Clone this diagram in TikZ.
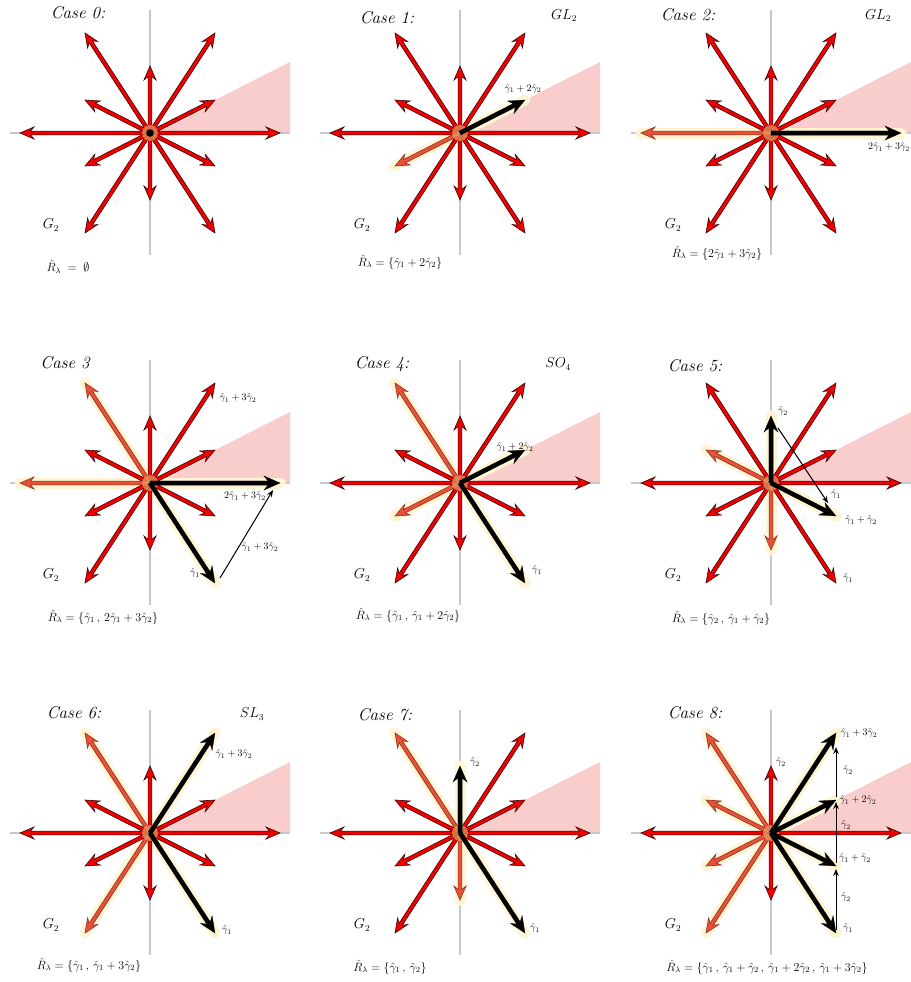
\documentclass[tikz,border=0pt]{standalone}
\usepackage{amsmath,amssymb}
\usetikzlibrary{arrows.meta}
\definecolor{wedge}{RGB}{250,205,205}
\definecolor{axisg}{RGB}{200,200,200}
\definecolor{rootred}{RGB}{240,0,0}
\definecolor{rootedge}{RGB}{60,0,0}
\definecolor{hlred}{RGB}{232,80,56}
\definecolor{hledge}{RGB}{140,50,30}
\definecolor{glowc}{RGB}{255,245,212}
\definecolor{centerg}{RGB}{232,160,100}
\tikzset{
 redarr/.style={fill=rootred, draw=rootedge, line width=0.6pt},
 hlarr/.style={fill=hlred, draw=hledge, line width=0.6pt},
 blkarr/.style={fill=black, draw=black, line width=0.3pt},
 glowline/.style={draw=glowc, line width=11pt, line cap=round},
 axisline/.style={draw=axisg, line width=1.1pt},
 thinarr/.style={draw=black, line width=1pt, -{Stealth[length=7pt,width=5.5pt]}},
 casetxt/.style={font=\fontsize{17}{20}\selectfont\itshape, inner sep=0pt},
 lbl/.style={font=\fontsize{10}{12}\selectfont, inner sep=0pt},
 setlbl/.style={font=\fontsize{12}{14}\selectfont, inner sep=0pt},
 grp/.style={font=\fontsize{13.5}{16}\selectfont, inner sep=0pt},
}
\newcommand\RX[1]{\ifcase#1 0\or 130\or 65\or 65\or 0\or -65\or -65\or -130\or -65\or -65\or 0\or 65\or 65\fi}
\newcommand\RY[1]{\ifcase#1 0\or 0\or 33\or 100\or 67\or 100\or 33\or 0\or -33\or -100\or -67\or -100\or -33\fi}
\def\gsw{1.9}\def\ghl{14}\def\ghw{6}\def\gnt{3.5}
\newcommand\garrow[2]{%
 \edef\gdx{\RX{#1}}\edef\gdy{\RY{#1}}%
 \pgfmathsetmacro\gL{veclen(\gdx,\gdy)}%
 \pgfmathsetmacro\gA{atan2(\gdy,\gdx)}%
 \draw[#2, rotate=\gA] (0,-\gsw) -- ({\gL-\ghl+\gnt},-\gsw) -- ({\gL-\ghl},-\ghw) -- (\gL,0) -- ({\gL-\ghl},\ghw) -- ({\gL-\ghl+\gnt},\gsw) -- (0,\gsw) -- cycle;}
\newcommand\barrow[1]{{\def\gsw{2.1}\def\ghl{16}\def\ghw{7}\def\gnt{4}\garrow{#1}{blkarr}}}
\newcommand\gglow[1]{\edef\gdx{\RX{#1}}\edef\gdy{\RY{#1}}\draw[glowline] (0,0) -- (\gdx,\gdy);}
\newcommand\gbase{%
 \fill[wedge] (0,0) -- (140,0) -- (140,71) -- cycle;
 \draw[axisline] (-140,0) -- (140,0);
 \draw[axisline] (0,123) -- (0,-122);}
\newcommand\gcenter{\fill[centerg, opacity=.7] (0,0) circle (8);}
\newcommand\gpanel[3]{% red list, highlighted list, black list
 \gbase
 \foreach \i in {#2,#3} {\gglow{\i}}
 \foreach \i in {#1} {\garrow{\i}{redarr}}
 \foreach \i in {#2} {\garrow{\i}{hlarr}}
 \gcenter
 \foreach \i in {#3} {\barrow{\i}}}
\begin{document}
\begin{tikzpicture}[x=1pt,y=1pt]
\useasboundingbox (0,0) rectangle (910,-982);
\fill[white] (0,0) rectangle (910,-982);

% ---------- Case 0
\begin{scope}[shift={(150,-133)}]
 \gbase
 \foreach \i in {1,...,12} {\garrow{\i}{redarr}}
 \gcenter
 \fill[black] (0,0) circle (3.8);
\end{scope}
\node[casetxt] (t0) at (78,-13) {Case 0:};
\node[grp] (g0) at (51,-225) {$G_2$};
\node[setlbl] (r0) at (68,-267) {$\hat R_\lambda\;=\;\emptyset$};

% ---------- Case 1
\begin{scope}[shift={(460,-133)}]
 \gpanel{1,3,4,5,6,7,9,10,11,12}{8}{2}
\end{scope}
\node[casetxt] (t1) at (387,-18) {Case 1:};
\node[grp] (n1) at (564,-16) {$GL_2$};
\node[lbl] (l1) at (523,-89) {$\hat\gamma_1+2\hat\gamma_2$};
\node[grp] (g1) at (362,-225) {$G_2$};
\node[setlbl] (r1) at (400,-262) {$\hat R_\lambda=\{\hat\gamma_1+2\hat\gamma_2\}$};

% ---------- Case 2
\begin{scope}[shift={(771,-133)}]
 \gpanel{2,3,4,5,6,8,9,10,11,12}{7}{1}
\end{scope}
\node[casetxt] (t2) at (688,-15) {Case 2:};
\node[grp] (n2) at (878,-16) {$GL_2$};
\node[lbl] (l2) at (889,-147) {$2\hat\gamma_1+3\hat\gamma_2$};
\node[grp] (g2) at (673,-225) {$G_2$};
\node[setlbl] (r2) at (717,-253) {$\hat R_\lambda=\{2\hat\gamma_1+3\hat\gamma_2\}$};

% ---------- Case 3
\begin{scope}[shift={(150,-483)}]
 \gpanel{2,3,4,6,8,9,10,12}{5,7}{1,11}
 \coordinate (c3a) at (70,-95);
 \coordinate (c3b) at (123,-7);
 \draw[thinarr] (c3a) -- (c3b);
\end{scope}
\node[casetxt] (t3) at (65,-363) {Case 3};
\node[lbl] (l3a) at (238,-398) {$\hat\gamma_1+3\hat\gamma_2$};
\node[lbl] (l3b) at (245,-496) {$2\hat\gamma_1+3\hat\gamma_2$};
\node[lbl] (l3c) at (260,-547) {$\hat\gamma_1+3\hat\gamma_2$};
\node[lbl] (l3d) at (195,-573) {$\hat\gamma_1$};
\node[grp] (g3) at (51,-575) {$G_2$};
\node[setlbl] (r3) at (103,-617) {$\hat R_\lambda=\{\hat\gamma_1\,,\,2\hat\gamma_1+3\hat\gamma_2\}$};

% ---------- Case 4
\begin{scope}[shift={(460,-483)}]
 \gpanel{1,3,4,6,7,9,10,12}{5,8}{2,11}
\end{scope}
\node[casetxt] (t4) at (382,-364) {Case 4:};
\node[grp] (n4) at (558,-364) {$SO_4$};
\node[lbl] (l4a) at (515,-447) {$\hat\gamma_1+2\hat\gamma_2$};
\node[lbl] (l4b) at (537,-570) {$\hat\gamma_1$};
\node[grp] (g4) at (362,-575) {$G_2$};
\node[setlbl] (r4) at (408,-615) {$\hat R_\lambda=\{\hat\gamma_1\,,\,\hat\gamma_1+2\hat\gamma_2\}$};

% ---------- Case 5
\begin{scope}[shift={(771,-483)}]
 \gpanel{1,2,3,5,7,8,9,11}{6,10}{4,12}
 \coordinate (c5a) at (7,55);
 \coordinate (c5b) at (57,-20);
 \draw[thinarr] (c5a) -- (c5b);
\end{scope}
\node[casetxt] (t5) at (695,-366) {Case 5:};
\node[lbl] (l5a) at (783,-411) {$\hat\gamma_2$};
\node[lbl] (l5b) at (836,-494) {$\hat\gamma_1$};
\node[lbl] (l5c) at (861,-520) {$\hat\gamma_1+\hat\gamma_2$};
\node[lbl] (l5d) at (848,-578) {$\hat\gamma_1$};
\node[grp] (g5) at (673,-575) {$G_2$};
\node[setlbl] (r5) at (721,-618) {$\hat R_\lambda=\{\hat\gamma_2\,,\,\hat\gamma_1+\hat\gamma_2\}$};

% ---------- Case 6
\begin{scope}[shift={(150,-833)}]
 \gpanel{1,2,4,6,7,8,10,12}{5,9}{3,11}
\end{scope}
\node[casetxt] (t6) at (74,-713) {Case 6:};
\node[grp] (n6) at (252,-714) {$SL_3$};
\node[lbl] (l6a) at (234,-754) {$\hat\gamma_1+3\hat\gamma_2$};
\node[lbl] (l6b) at (227,-930) {$\hat\gamma_1$};
\node[grp] (g6) at (51,-925) {$G_2$};
\node[setlbl] (r6) at (89,-965) {$\hat R_\lambda=\{\hat\gamma_1\,,\,\hat\gamma_1+3\hat\gamma_2\}$};

% ---------- Case 7
\begin{scope}[shift={(460,-833)}]
 \gpanel{1,2,3,6,7,8,9,12}{5,10}{4,11}
\end{scope}
\node[casetxt] (t7) at (385,-715) {Case 7:};
\node[lbl] (l7a) at (475,-762) {$\hat\gamma_2$};
\node[lbl] (l7b) at (535,-928) {$\hat\gamma_1$};
\node[grp] (g7) at (362,-925) {$G_2$};
\node[setlbl] (r7) at (390,-967) {$\hat R_\lambda=\{\hat\gamma_1\,,\,\hat\gamma_2\}$};

% ---------- Case 8
\begin{scope}[shift={(771,-833)}]
 \gpanel{1,4,7,10}{5,6,8,9}{2,3,11,12}
 \coordinate (c8a) at (65,-97);
 \coordinate (c8b) at (65,-36);
 \coordinate (c8c) at (65,-30);
 \coordinate (c8d) at (65,31);
 \coordinate (c8e) at (65,36);
 \coordinate (c8f) at (65,86);
 \draw[thinarr] (c8a) -- (c8b);
 \draw[thinarr] (c8c) -- (c8d);
 \draw[thinarr] (c8e) -- (c8f);
\end{scope}
\node[casetxt] (t8) at (695,-713) {Case 8:};
\node[lbl] (l8a) at (781,-762) {$\hat\gamma_2$};
\node[lbl] (l8b) at (859,-733) {$\hat\gamma_1+3\hat\gamma_2$};
\node[lbl] (l8c) at (848,-770) {$\hat\gamma_2$};
\node[lbl] (l8d) at (858,-800) {$\hat\gamma_1+2\hat\gamma_2$};
\node[lbl] (l8e) at (846,-825) {$\hat\gamma_2$};
\node[lbl] (l8f) at (855,-858) {$\hat\gamma_1+\hat\gamma_2$};
\node[lbl] (l8g) at (846,-897) {$\hat\gamma_2$};
\node[lbl] (l8h) at (848,-928) {$\hat\gamma_1$};
\node[grp] (g8) at (673,-925) {$G_2$};
\node[setlbl] (r8) at (767,-967) {$\hat R_\lambda=\{\hat\gamma_1\,,\,\hat\gamma_1+\hat\gamma_2\,,\,\hat\gamma_1+2\hat\gamma_2\,,\,\hat\gamma_1+3\hat\gamma_2\}$};
\end{tikzpicture}
\end{document}
